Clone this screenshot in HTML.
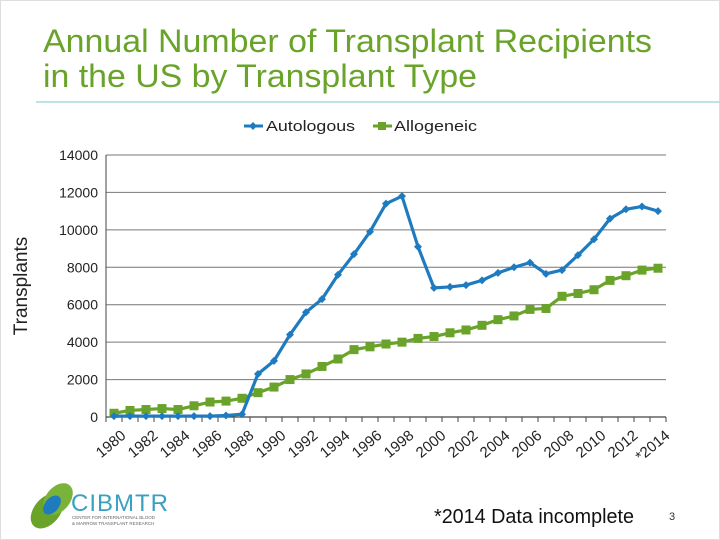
<!DOCTYPE html>
<html><head><meta charset="utf-8"><style>
body{margin:0;background:#fff;}
svg{display:block;font-family:"Liberation Sans",sans-serif;}
</style></head><body>
<svg id="c" width="720" height="540" viewBox="0 0 720 540">
<rect x="0.5" y="0.5" width="719" height="539" fill="#fff" stroke="#ddd"/>
<text x="43" y="52" font-size="32" fill="#6aa32a" textLength="609" lengthAdjust="spacingAndGlyphs">Annual Number of Transplant Recipients</text>
<text x="43" y="87" font-size="32" fill="#6aa32a" textLength="434" lengthAdjust="spacingAndGlyphs">in the US by Transplant Type</text>
<line x1="36" y1="102" x2="720" y2="102" stroke="#a8d8e6" stroke-width="1.5"/>
<g>
<g>
<line x1="244" y1="126" x2="263" y2="126" stroke="#1f7bbf" stroke-width="3"/>
<path d="M253 122 L257 126 L253 130 L249 126Z" fill="#1f7bbf"/>
<text x="266" y="131" font-size="15" fill="#222" textLength="89" lengthAdjust="spacingAndGlyphs">Autologous</text></g>
<g>
<line x1="373" y1="126" x2="392" y2="126" stroke="#6aa32a" stroke-width="3"/>
<rect x="378" y="122" width="8" height="8" fill="#6aa32a"/>
<text x="394" y="131" font-size="15" fill="#222" textLength="83" lengthAdjust="spacingAndGlyphs">Allogeneic</text></g>
</g>
<text transform="translate(27,286) rotate(-90)" text-anchor="middle" font-size="19" fill="#222">Transplants</text>
<g id="plot"></g>
<g>
<ellipse cx="47" cy="511" rx="13" ry="20" transform="rotate(40 47 511)" fill="#6aa32a"/>
<ellipse cx="58" cy="499" rx="12" ry="18" transform="rotate(40 58 499)" fill="#7ab33a"/>
<ellipse cx="52" cy="505" rx="7" ry="11" transform="rotate(40 52 505)" fill="#1f7bbf"/>
<text x="71" y="511" font-size="24" fill="#3aa0c0" letter-spacing="1">CIBMTR</text>
<text x="72" y="519" font-size="4.5" fill="#666">CENTER FOR INTERNATIONAL BLOOD</text>
<text x="72" y="525" font-size="4.5" fill="#666">&amp; MARROW TRANSPLANT RESEARCH</text>
</g>
<text x="434" y="523" font-size="20" fill="#111" textLength="200" lengthAdjust="spacingAndGlyphs">*2014 Data incomplete</text>
<text x="669" y="520" font-size="11" fill="#333">3</text>
</svg>
<script>
const years=[1980,1981,1982,1983,1984,1985,1986,1987,1988,1989,1990,1991,1992,1993,1994,1995,1996,1997,1998,1999,2000,2001,2002,2003,2004,2005,2006,2007,2008,2009,2010,2011,2012,2013,2014];
const autologous=[50,50,50,50,50,50,50,80,150,2300,3000,4400,5600,6300,7600,8700,9900,11400,11800,9100,6900,6950,7050,7300,7700,8000,8250,7650,7850,8650,9500,10600,11100,11250,11000];
const allogeneic=[200,350,400,450,400,600,800,850,1000,1300,1600,2000,2300,2700,3100,3600,3750,3900,4000,4200,4300,4500,4650,4900,5200,5400,5750,5800,6450,6600,6800,7300,7550,7850,7950];
const yTicks=[0,2000,4000,6000,8000,10000,12000,14000];
const xLabels=["1980","1982","1984","1986","1988","1990","1992","1994","1996","1998","2000","2002","2004","2006","2008","2010","2012","*2014"];
const x0=106,x1=666,yb=417,yt=155,ymax=14000;
const bw=(x1-x0)/years.length;
const X=i=>x0+bw*(i+0.5);
const Y=v=>yb-(v/ymax)*(yb-yt);
const NS="http://www.w3.org/2000/svg";
const g=document.getElementById('plot');
function mk(t,a,p){const e=document.createElementNS(NS,t);for(const k in a)e.setAttribute(k,a[k]);(p||g).appendChild(e);return e;}
yTicks.forEach(v=>{
 const l=mk('line',{x1:x0,x2:x1,y1:Y(v),y2:Y(v),stroke:v===0?'#444':'#777','stroke-width':v===0?1.2:1});
 
 
 const t=mk('text',{x:x0-8,y:Y(v)+5,'text-anchor':'end','font-size':14,fill:'#222'});
 t.textContent=v;
 
 
});
const ax=mk('line',{x1:x0,x2:x0,y1:yt,y2:yb,stroke:'#444'});


for(let i=0;i<=years.length;i++){
 const tk=mk('line',{x1:x0+bw*i,x2:x0+bw*i,y1:yb,y2:yb+5,stroke:'#444'});
 
 
}
xLabels.forEach((s,j)=>{
 const i=j*2;
 const cx=X(i)+6,cy=yb+12;
 const t=mk('text',{x:cx,y:cy,'text-anchor':'end','font-size':15,fill:'#222',transform:`rotate(-40 ${cx} ${cy})`,dy:'0.7em'});
 t.textContent=s;
 
 
});
function series(vals,color,name,marker){
 const pts=vals.map((v,i)=>X(i)+','+Y(v)).join(' ');
 const pl=mk('polyline',{points:pts,fill:'none',stroke:color,'stroke-width':3.2,'stroke-linejoin':'round'});
 
 
 vals.forEach((v,i)=>{
  let m;
  if(marker==='sq') m=mk('rect',{x:X(i)-4.5,y:Y(v)-4.5,width:9,height:9,fill:color});
  else m=mk('path',{d:`M${X(i)} ${Y(v)-4}L${X(i)+4} ${Y(v)}L${X(i)} ${Y(v)+4}L${X(i)-4} ${Y(v)}Z`,fill:color});
  
  
 });
}
series(allogeneic,'#6aa32a','allogeneic','sq');
series(autologous,'#1f7bbf','autologous','dia');
</script>
</body></html>
